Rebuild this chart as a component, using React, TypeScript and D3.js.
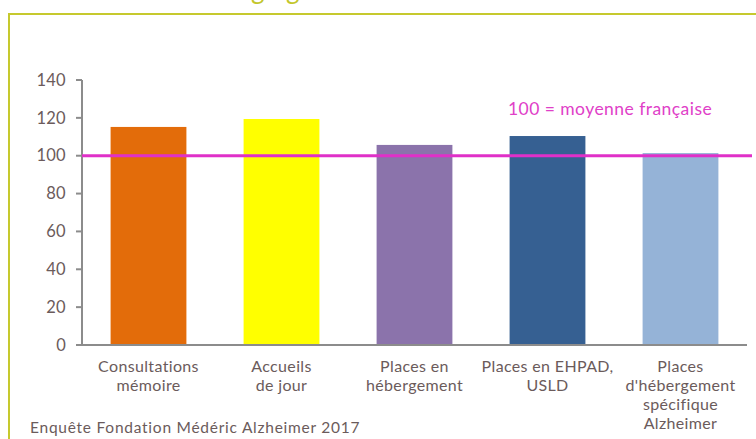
import React from "react";
import * as d3 from "d3";

const categories = [
  ["Consultations", "mémoire"],
  ["Accueils", "de jour"],
  ["Places en", "hébergement"],
  ["Places en EHPAD,", "USLD"],
  ["Places", "d'hébergement", "spécifique", "Alzheimer"],
];
const values = [115.2, 119.4, 105.7, 110.4, 101.4];
const barColors = ["#e36c0a", "#ffff00", "#8b73ab", "#366092", "#95b3d7"];
const yTicks = [0, 20, 40, 60, 80, 100, 120, 140];
const refValue = 100;
const refLabel = "100 = moyenne française";
const source = "Enquête Fondation Médéric Alzheimer 2017";

const W = 756;
const H = 439;
const textColor = "#6b5b5b";
const font = "Lato, 'Open Sans', sans-serif";

export default function App() {
  const x = d3
    .scaleBand<number>()
    .domain(d3.range(values.length))
    .range([82, 747])
    .paddingInner(0.43)
    .paddingOuter(0.215);
  const y = d3.scaleLinear().domain([0, 140]).range([345, 80]);

  return (
    <svg
      width={W}
      height={H}
      style={{ position: "absolute", left: 0, top: 0, background: "#fff" }}
      fontFamily={font}
    >
      {/* cut-off title descenders */}
      <text x={251} y={-1} fontSize={26} fill="#c3c62b" fontFamily={font}>
        g
      </text>
      <text x={286} y={-1} fontSize={26} fill="#c3c62b" fontFamily={font}>
        g
      </text>
      {/* frame */}
      <path d={`M9,${H} L9,14 L${W},14`} fill="none" stroke="#c6c92e" strokeWidth={2} />

      {/* bars */}
      {values.map((v, i) => (
        <rect
          key={i}
          x={x(i)}
          y={y(v)}
          width={x.bandwidth()}
          height={y(0) - y(v)}
          fill={barColors[i]}
        />
      ))}

      {/* y axis */}
      <line x1={82} x2={82} y1={y(140)} y2={y(0)} stroke="#8c8c8c" strokeWidth={2} />
      {yTicks.map((t) => (
        <g key={t}>
          <line x1={76} x2={82} y1={y(t)} y2={y(t)} stroke="#8c8c8c" strokeWidth={2} />
          <text
            x={66}
            y={y(t)}
            dy="0.35em"
            textAnchor="end"
            fontSize={16.5}
            letterSpacing={0.3}
            fill={textColor}
          >
            {t}
          </text>
        </g>
      ))}
      {/* x axis */}
      <line x1={82} x2={747} y1={y(0)} y2={y(0)} stroke="#8c8c8c" strokeWidth={2} />

      {/* x labels */}
      {categories.map((lines, i) => (
        <text
          key={i}
          x={(x(i) as number) + x.bandwidth() / 2}
          y={372}
          textAnchor="middle"
          fontSize={16}
          letterSpacing={0.35}
          fill={textColor}
        >
          {lines.map((l, j) => (
            <tspan key={j} x={(x(i) as number) + x.bandwidth() / 2} dy={j === 0 ? 0 : 19}>
              {l}
            </tspan>
          ))}
        </text>
      ))}

      {/* reference line */}
      <line x1={82} x2={752} y1={y(refValue)} y2={y(refValue)} stroke="#e030c8" strokeWidth={3} />
      <text x={508} y={115} fontSize={17.5} letterSpacing={0.45} fill="#e040c8">
        {refLabel}
      </text>

      {/* source */}
      <text x={30} y={433} fontSize={15.5} letterSpacing={0.75} fill={textColor}>
        {source}
      </text>
    </svg>
  );
}
